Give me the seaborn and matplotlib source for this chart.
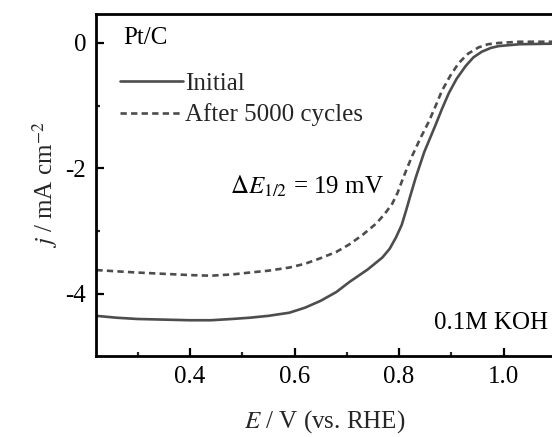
import numpy as np
import pandas as pd
import matplotlib
matplotlib.use("Agg")
import matplotlib.pyplot as plt
import seaborn as sns

# ---- data ----
x_initial = [0.221, 0.26, 0.30, 0.35, 0.40, 0.44, 0.48, 0.514, 0.55, 0.59, 0.62, 0.65,
             0.68, 0.705, 0.74, 0.768, 0.782, 0.794, 0.805, 0.813, 0.822, 0.832, 0.848,
             0.860, 0.870, 0.882, 0.895, 0.910, 0.927, 0.942, 0.958, 0.975, 0.99, 1.03, 1.1]
y_initial = [-4.35, -4.38, -4.40, -4.41, -4.42, -4.42, -4.40, -4.38, -4.35, -4.30, -4.22, -4.11,
             -3.97, -3.81, -3.61, -3.42, -3.28, -3.10, -2.90, -2.68, -2.42, -2.14, -1.74,
             -1.50, -1.30, -1.05, -0.80, -0.57, -0.37, -0.23, -0.14, -0.08, -0.05, -0.02, -0.01]

x_after = [0.221, 0.26, 0.30, 0.35, 0.40, 0.44, 0.48, 0.514, 0.55, 0.59, 0.62, 0.65,
           0.68, 0.705, 0.73, 0.756, 0.772, 0.787, 0.797, 0.806, 0.815, 0.825, 0.840,
           0.857, 0.870, 0.882, 0.898, 0.914, 0.932, 0.952, 0.97, 0.99, 1.03, 1.1]
y_after = [-3.62, -3.64, -3.66, -3.68, -3.70, -3.71, -3.69, -3.66, -3.63, -3.58, -3.52, -3.43,
           -3.33, -3.21, -3.06, -2.88, -2.73, -2.56, -2.39, -2.19, -2.00, -1.80, -1.53,
           -1.25, -1.00, -0.76, -0.52, -0.32, -0.17, -0.07, -0.02, 0.0, 0.02, 0.02]

series_labels = ["Initial", "After 5000 cycles"]
x_ticks = [0.4, 0.6, 0.8, 1.0]
y_ticks = [0, -2, -4]

df = pd.concat([
    pd.DataFrame({"E": x_initial, "j": y_initial, "series": series_labels[0]}),
    pd.DataFrame({"E": x_after, "j": y_after, "series": series_labels[1]}),
], ignore_index=True)

sns.set_theme(style="ticks")
plt.rcParams["font.family"] = ["Liberation Serif", "DejaVu Serif"]
plt.rcParams["mathtext.fontset"] = "stix"
plt.rcParams["axes.unicode_minus"] = False

W, H = 552, 437
fig = plt.figure(figsize=(W / 100, H / 100), dpi=100)
fig.patch.set_facecolor("white")
left, right, top, bottom = 96, 556, 14, 356
ax = fig.add_axes([left / W, 1 - bottom / H, (right - left) / W, (bottom - top) / H])

line_color = "#4d4d4d"
sns.lineplot(data=df, x="E", y="j", hue="series", style="series",
             palette=[line_color, line_color],
             dashes={series_labels[0]: "", series_labels[1]: (2.4, 1.6)},
             linewidth=1.9, sort=False, estimator=None, ax=ax, legend=True)

ax.set_xlim(0.2204, 1.1)
ax.set_ylim(-4.99, 0.462)
ax.set_xticks(x_ticks)
ax.set_xticklabels([f"{v:.1f}" for v in x_ticks])
ax.set_yticks(y_ticks)
ax.set_yticklabels([f"{v:d}" for v in y_ticks])
ax.set_xticks([0.3, 0.5, 0.7, 0.9], minor=True)
ax.set_yticks([-1, -3], minor=True)
ax.tick_params(axis="both", which="major", direction="in", length=6, width=1.6,
               labelsize=18, pad=7, colors="black")
ax.tick_params(axis="both", which="minor", direction="in", length=3, width=1.6)
for s in ax.spines.values():
    s.set_linewidth(2.0)
    s.set_color("black")

ax.set_xlabel("$E$ / V (vs. RHE)", fontsize=18)
ax.set_ylabel("$j$ / mA cm$^{\\mathrm{-2}}$", fontsize=18)
ax.xaxis.label.set_va("center")
ax.yaxis.label.set_va("center")
ax.xaxis.set_label_coords((325 - left) / (right - left), -(422 - bottom) / (bottom - top))
ax.yaxis.set_label_coords((45 - left) / (right - left), 0.5)

handles, labels = ax.get_legend_handles_labels()
leg = ax.legend(handles, labels, loc="upper left", frameon=False, fontsize=18,
                bbox_to_anchor=((120 - left) / (right - left), 1 - (72 - top) / (bottom - top)),
                borderpad=0, borderaxespad=0, handlelength=2.5, handletextpad=0.1,
                labelspacing=0.36)
for h in leg.get_lines():
    h.set_linewidth(1.9)

def ftext(px, py, s, **kw):
    fig.text(px / W, 1 - py / H, s, fontsize=18, color="black", **kw)

ftext(123, 38, "Pt/C", ha="left", va="center")
ftext(230, 186, r"$\Delta E_{\mathrm{1/2}}$ = 19 mV", ha="left", va="center")
ftext(548, 323, "0.1M KOH", ha="right", va="center")

fig.savefig("out.png", dpi=100, facecolor="white")
